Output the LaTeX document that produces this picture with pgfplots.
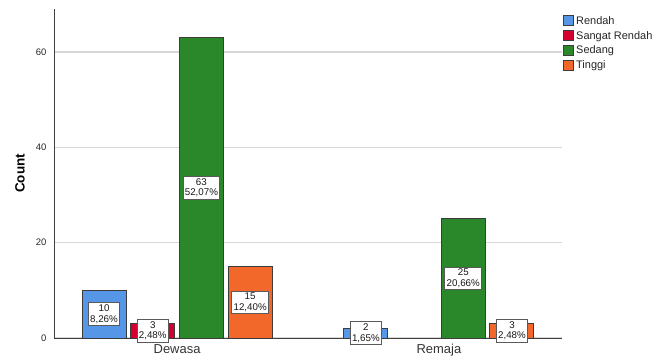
\documentclass[border=0pt]{standalone}
\usepackage{fontspec}
\setmainfont{Liberation Sans}
\usepackage{pgfplots}
\usepackage{pgfplotstable}
\pgfplotsset{compat=1.18}

\definecolor{cRendah}{RGB}{86,150,230}
\definecolor{cSangat}{RGB}{214,0,48}
\definecolor{cSedang}{RGB}{42,135,42}
\definecolor{cTinggi}{RGB}{242,104,42}
\definecolor{barline}{RGB}{60,60,60}
\definecolor{gridc}{RGB}{215,215,215}
\definecolor{boxline}{RGB}{90,90,90}

% counts and percentages per category (0 = Dewasa, 1 = Remaja)
\pgfplotstableread{
cat count pct
0 10 8,26
1 2 1,65
}\rendah
\pgfplotstableread{
cat count pct
0 3 2,48
}\sangat
\pgfplotstableread{
cat count pct
0 63 52,07
1 25 20,66
}\sedang
\pgfplotstableread{
cat count pct
0 15 12,40
1 3 2,48
}\tinggi

\pgfplotsset{
  barstyle/.style={ybar, bar width=0.168, draw=barline, line width=1bp, fill=#1,
    legend image code/.code={\draw[fill=#1, draw=barline, line width=1bp] (0bp,-4.5bp) rectangle (10bp,5.5bp);}},
  labstyle/.style={forget plot, draw=none, mark=none,
    visualization depends on={\thisrow{count}\as\cnt},
    point meta=explicit symbolic,
    nodes near coords={\pgfmathprintnumber{\cnt}\\\pgfplotspointmeta\%},
    every node near coord/.append style={anchor=center, draw=boxline, fill=white, line width=1bp,
      align=center, font=\fontsize{9.8}{10.5}\selectfont, text=black!90, inner xsep=1.8bp, inner ysep=2bp}},
}

\begin{document}
\begin{tikzpicture}
\useasboundingbox (0,0) rectangle (656bp,363bp);
\begin{axis}[
  at={(54bp,25bp)}, anchor=south west,
  scale only axis, width=508bp, height=329bp,
  xmin=-0.47, xmax=1.47, ymin=0, ymax=69,
  axis x line*=bottom, axis y line*=left,
  axis line style={draw=black!75, line width=0.8bp},
  xtick={0,1}, xticklabels={Dewasa,Remaja},
  ytick={0,20,40,60},
  major tick length=0pt,
  ymajorgrids, grid style={draw=gridc, line width=1.2bp},
  xticklabel style={font=\fontsize{13}{15}\selectfont, text=black!80, yshift=-3bp},
  yticklabel style={font=\fontsize{9.5}{10}\selectfont, text=black!85, xshift=-4bp},
  ylabel={\textbf{Count}},
  ylabel style={font=\fontsize{13.5}{15}\selectfont, at={(-34bp,0.5)}, anchor=center, rotate=0},
  /pgf/number format/assume math mode=true,
  clip=false,
  legend cell align=left,
  legend style={at={(1.0,0.985)}, anchor=north west, draw=none, fill=none,
    font=\fontsize{11}{12}\selectfont, text=black!85, inner xsep=1bp, inner ysep=0bp,
    row sep=1.5bp, nodes={inner xsep=2bp, inner ysep=2bp}},
]
\addplot[barstyle=cRendah, bar shift=-0.279] table[x=cat, y=count]{\rendah};
\addlegendentry{Rendah}
\addplot[barstyle=cSangat, bar shift=-0.093] table[x=cat, y=count]{\sangat};
\addlegendentry{Sangat Rendah}
\addplot[barstyle=cSedang, bar shift=0.093] table[x=cat, y=count]{\sedang};
\addlegendentry{Sedang}
\addplot[barstyle=cTinggi, bar shift=0.279] table[x=cat, y=count]{\tinggi};
\addlegendentry{Tinggi}

% value labels, centred at half the bar height
\addplot[labstyle] table[x expr=\thisrow{cat}-0.279, y expr=\thisrow{count}/2, meta=pct]{\rendah};
\addplot[labstyle] table[x expr=\thisrow{cat}-0.093, y expr=\thisrow{count}/2, meta=pct]{\sangat};
\addplot[labstyle] table[x expr=\thisrow{cat}+0.093, y expr=\thisrow{count}/2, meta=pct]{\sedang};
\addplot[labstyle] table[x expr=\thisrow{cat}+0.279, y expr=\thisrow{count}/2, meta=pct]{\tinggi};
\end{axis}
\end{tikzpicture}
\end{document}
